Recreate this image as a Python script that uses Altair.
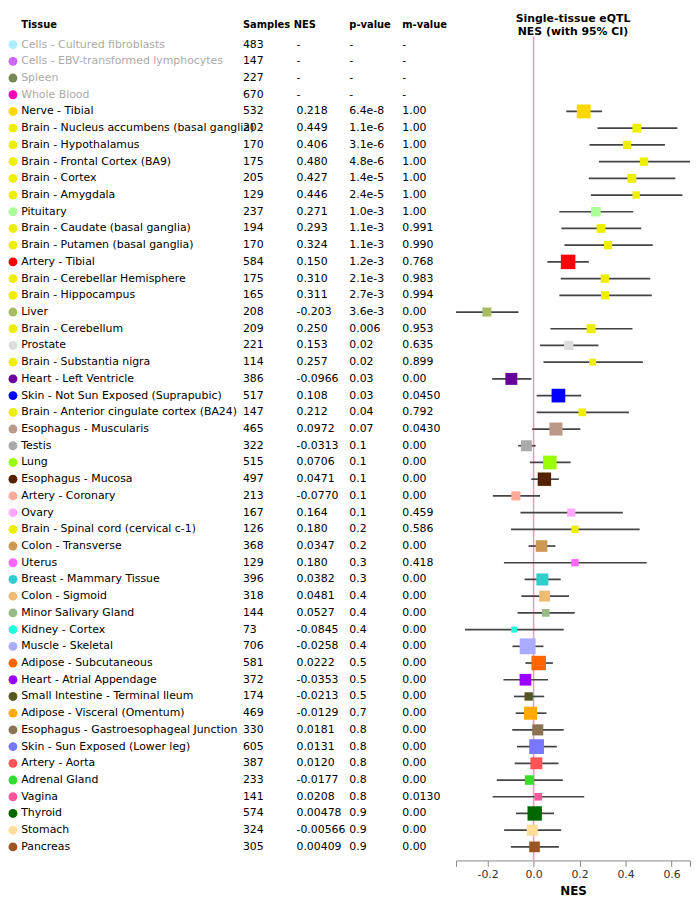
import altair as alt
import pandas as pd

tissues = [
    "Cells - Cultured fibroblasts", "Cells - EBV-transformed lymphocytes", "Spleen", "Whole Blood",
    "Nerve - Tibial", "Brain - Nucleus accumbens (basal ganglia)", "Brain - Hypothalamus",
    "Brain - Frontal Cortex (BA9)", "Brain - Cortex", "Brain - Amygdala", "Pituitary",
    "Brain - Caudate (basal ganglia)", "Brain - Putamen (basal ganglia)", "Artery - Tibial",
    "Brain - Cerebellar Hemisphere", "Brain - Hippocampus", "Liver", "Brain - Cerebellum",
    "Prostate", "Brain - Substantia nigra", "Heart - Left Ventricle",
    "Skin - Not Sun Exposed (Suprapubic)", "Brain - Anterior cingulate cortex (BA24)",
    "Esophagus - Muscularis", "Testis", "Lung", "Esophagus - Mucosa", "Artery - Coronary",
    "Ovary", "Brain - Spinal cord (cervical c-1)", "Colon - Transverse", "Uterus",
    "Breast - Mammary Tissue", "Colon - Sigmoid", "Minor Salivary Gland", "Kidney - Cortex",
    "Muscle - Skeletal", "Adipose - Subcutaneous", "Heart - Atrial Appendage",
    "Small Intestine - Terminal Ileum", "Adipose - Visceral (Omentum)",
    "Esophagus - Gastroesophageal Junction", "Skin - Sun Exposed (Lower leg)", "Artery - Aorta",
    "Adrenal Gland", "Vagina", "Thyroid", "Stomach", "Pancreas",
]
colors = [
    "#AAEEFF", "#CC66FF", "#778855", "#FF00BB",
    "#FFD700", "#EEEE00", "#EEEE00", "#EEEE00", "#EEEE00", "#EEEE00", "#AAFF99",
    "#EEEE00", "#EEEE00", "#FF0000", "#EEEE00", "#EEEE00", "#AABB66", "#EEEE00",
    "#DDDDDD", "#EEEE00", "#660099", "#0000FF", "#EEEE00", "#BB9988", "#AAAAAA",
    "#99FF00", "#552200", "#FFAA99", "#FFAAFF", "#EEEE00", "#CC9955", "#FF66FF",
    "#33CCCC", "#EEBB77", "#99BB88", "#22FFDD", "#AAAAFF", "#FF6600", "#9900FF",
    "#555522", "#FFAA00", "#8B7355", "#7777FF", "#FF5555", "#33DD33", "#FF5599",
    "#006600", "#FFDD99", "#995522",
]
samples = [483, 147, 227, 670, 532, 202, 170, 175, 205, 129, 237, 194, 170, 584, 175, 165,
           208, 209, 221, 114, 386, 517, 147, 465, 322, 515, 497, 213, 167, 126, 368, 129,
           396, 318, 144, 73, 706, 581, 372, 174, 469, 330, 605, 387, 233, 141, 574, 324, 305]
nes_text = ["-", "-", "-", "-", "0.218", "0.449", "0.406", "0.480", "0.427", "0.446", "0.271",
            "0.293", "0.324", "0.150", "0.310", "0.311", "-0.203", "0.250", "0.153", "0.257",
            "-0.0966", "0.108", "0.212", "0.0972", "-0.0313", "0.0706", "0.0471", "-0.0770",
            "0.164", "0.180", "0.0347", "0.180", "0.0382", "0.0481", "0.0527", "-0.0845",
            "-0.0258", "0.0222", "-0.0353", "-0.0213", "-0.0129", "0.0181", "0.0131", "0.0120",
            "-0.0177", "0.0208", "0.00478", "-0.00566", "0.00409"]
p_text = ["-", "-", "-", "-", "6.4e-8", "1.1e-6", "3.1e-6", "4.8e-6", "1.4e-5", "2.4e-5",
          "1.0e-3", "1.1e-3", "1.1e-3", "1.2e-3", "2.1e-3", "2.7e-3", "3.6e-3", "0.006", "0.02",
          "0.02", "0.03", "0.03", "0.04", "0.07", "0.1", "0.1", "0.1", "0.1", "0.1", "0.2", "0.2",
          "0.3", "0.3", "0.4", "0.4", "0.4", "0.4", "0.5", "0.5", "0.5", "0.7", "0.8", "0.8",
          "0.8", "0.8", "0.8", "0.9", "0.9", "0.9"]
m_text = ["-", "-", "-", "-", "1.00", "1.00", "1.00", "1.00", "1.00", "1.00", "1.00", "0.991",
          "0.990", "0.768", "0.983", "0.994", "0.00", "0.953", "0.635", "0.899", "0.00", "0.0450",
          "0.792", "0.0430", "0.00", "0.00", "0.00", "0.00", "0.459", "0.586", "0.00", "0.418",
          "0.00", "0.00", "0.00", "0.00", "0.00", "0.00", "0.00", "0.00", "0.00", "0.00", "0.00",
          "0.00", "0.00", "0.0130", "0.00", "0.00", "0.00"]
ci_low = [None, None, None, None,
          0.142, 0.278, 0.243, 0.284, 0.240, 0.249, 0.112, 0.121, 0.134, 0.060, 0.118, 0.112,
          -0.337, 0.073, 0.028, 0.043, -0.180, 0.013, 0.013, -0.006, -0.067, -0.016, -0.010,
          -0.177, -0.057, -0.098, -0.022, -0.129, -0.039, -0.053, -0.070, -0.298, -0.092,
          -0.036, -0.131, -0.085, -0.078, -0.093, -0.072, -0.082, -0.160, -0.178, -0.076,
          -0.128, -0.099]
ci_high = [None, None, None, None,
           0.298, 0.625, 0.571, 0.680, 0.616, 0.647, 0.433, 0.468, 0.518, 0.240, 0.507, 0.514,
           -0.066, 0.430, 0.282, 0.475, -0.009, 0.207, 0.414, 0.203, 0.009, 0.161, 0.110,
           0.028, 0.388, 0.461, 0.095, 0.492, 0.118, 0.154, 0.179, 0.131, 0.043, 0.084, 0.063,
           0.046, 0.056, 0.131, 0.101, 0.108, 0.127, 0.220, 0.089, 0.120, 0.110]

headers = ["Tissue", "Samples", "NES", "p-value", "m-value"]
title_lines = ["Single-tissue eQTL", "NES (with 95% CI)"]

df = pd.DataFrame({
    "row": list(range(len(tissues))),
    "tissue": tissues,
    "color": colors,
    "samples": samples,
    "nes_txt": nes_text,
    "p_txt": p_text,
    "m_txt": m_text,
    "nes": [float(v) if v != "-" else None for v in nes_text],
    "lo": ci_low,
    "hi": ci_high,
})
df["active"] = df["nes_txt"] != "-"

FONT = "DejaVu Sans"
H = 854
W1 = 451
W2 = 236
ydom = [-1.839, 48.81]

hdr = pd.DataFrame({"label": headers, "v": [-1.187] * len(headers)})
title_df = pd.DataFrame({"t": title_lines, "v": [-1.55, -0.76]})
zero_df = pd.DataFrame({"z": [0.0], "y0": [-0.5], "y1": [ydom[1]]})


def yenc(field="row"):
    return alt.Y(f"{field}:Q", scale=alt.Scale(domain=ydom, reverse=True, nice=False, zero=False),
                 axis=None)


base = alt.Chart(df)

circles = base.mark_circle(size=80, opacity=1).encode(
    x=alt.value(5), y=yenc(), color=alt.Color("color:N", scale=None)
)
tissue_txt = base.mark_text(align="left", baseline="middle", font=FONT, fontSize=11).encode(
    x=alt.value(13.3), y=yenc(), text="tissue:N",
    color=alt.condition("datum.active", alt.value("#000000"), alt.value("#aaaaaa")),
)
col_x = {"samples": 237, "nes_txt": 291, "p_txt": 344.3, "m_txt": 397.7}
cols = []
for field, xv in col_x.items():
    cols.append(base.mark_text(align="left", baseline="middle", font=FONT, fontSize=11,
                               color="#000000").encode(
        x=alt.value(xv), y=yenc(), text=f"{field}:N"))

head_x = [13.3, 237, 288.3, 344.3, 397.7]
heads = []
for lab, xv in zip(headers, head_x):
    heads.append(
        alt.Chart(hdr).transform_filter(alt.datum.label == lab).mark_text(
            align="left", baseline="middle", font=FONT, fontSize=10,
            fontWeight="bold", color="#000000"
        ).encode(x=alt.value(xv), y=yenc("v"), text="label:N")
    )

left = alt.layer(circles, tissue_txt, *cols, *heads).properties(width=W1, height=H)

xscale = alt.Scale(domain=[-0.337, 0.68], nice=False, zero=False)
X_axis = alt.Axis(
    values=[-0.337, -0.2, 0.0, 0.2, 0.4, 0.6, 0.68],
    labelExpr=("(datum.value < -0.3 || datum.value > 0.65) ? '' : "
               "((datum.value < -0.001 ? '-' : '') + format(abs(datum.value), '.1f'))"),
    grid=False, domainColor="#888888", tickColor="#888888", tickSize=6,
    labelColor="#333333", labelFontSize=11, labelFont=FONT, labelPadding=2,
    title="NES", titleFontSize=12, titleFontWeight="bold", titleFont=FONT,
    titleColor="#000000", titlePadding=6,
)

zero_rule = alt.Chart(zero_df).mark_rule(color="#ee99bb", strokeWidth=1.5).encode(
    x=alt.X("z:Q", scale=xscale, axis=X_axis),
    y=yenc("y0"),
    y2="y1:Q",
)
act = alt.Chart(df).transform_filter("datum.active")
bars = act.mark_rule(color="#444444", strokeWidth=1.7).encode(
    x=alt.X("lo:Q", scale=xscale, axis=X_axis), x2="hi:Q", y=yenc()
)
squares = act.mark_square(opacity=1).encode(
    x=alt.X("nes:Q", scale=xscale, axis=X_axis),
    y=yenc(),
    size=alt.Size("samples:Q", scale=alt.Scale(domain=[73, 706], range=[36, 256]), legend=None),
    color=alt.Color("color:N", scale=None),
)
titles = alt.Chart(title_df).mark_text(
    align="center", baseline="middle", font=FONT, fontSize=11, fontWeight="bold", color="#000000"
).encode(
    x=alt.value(W2 / 2), y=yenc("v"), text="t:N"
)

right = alt.layer(zero_rule, bars, squares, titles).properties(width=W2, height=H)

chart = alt.hconcat(left, right, spacing=0).properties(padding=0).configure_view(
    strokeWidth=0
)

chart.save("out.html", embed_options={"renderer": "svg", "actions": False})
